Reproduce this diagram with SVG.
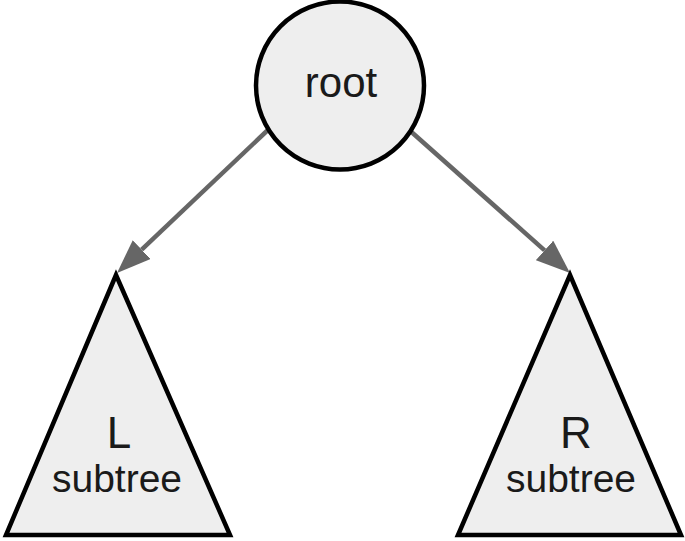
<svg xmlns="http://www.w3.org/2000/svg" width="685" height="541" viewBox="0 0 685 541">
<style>
.node{fill:#eeeeee;stroke:#000;stroke-width:4.5;stroke-linejoin:miter}
.lbl{font-family:"Liberation Sans",Arial,sans-serif;fill:#1a1a1a;text-anchor:middle}
.edge{stroke:#666;stroke-width:4.5;fill:none}
</style>
<defs>
<marker id="arr" markerUnits="userSpaceOnUse" viewBox="0 0 34 26" markerWidth="34" markerHeight="26" refX="0" refY="13" orient="auto">
<path d="M0,0 L34,13 L0,26 z" fill="#666"/>
</marker>
</defs>
<rect width="685" height="541" fill="#fff"/>
<g id="connectors">
<line class="edge" x1="270" y1="128" x2="141.7" y2="249.6" marker-end="url(#arr)"/>
<line class="edge" x1="407" y1="128" x2="544.6" y2="250.4" marker-end="url(#arr)"/>
</g>
<g id="root">
<circle class="node" cx="340" cy="85.5" r="84"/>
<text class="lbl" x="341" y="97" font-size="42">root</text>
</g>
<g id="left">
<polygon class="node" points="116,275 6,535 230,535"/>
<text class="lbl" x="119" y="448" font-size="44">L</text>
<text class="lbl" x="117" y="492" font-size="39">subtree</text>
</g>
<g id="right">
<polygon class="node" points="570,275 458,535 681,535"/>
<text class="lbl" x="576" y="448" font-size="44">R</text>
<text class="lbl" x="571" y="492" font-size="39">subtree</text>
</g>
</svg>
